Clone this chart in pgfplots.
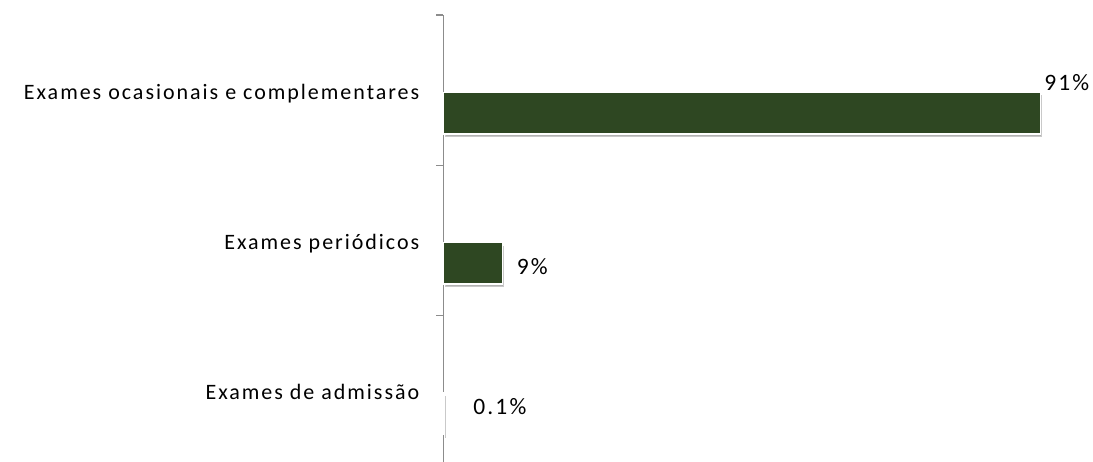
\documentclass[border=0pt]{standalone}
\usepackage{fontspec}
\setmainfont{Carlito}[LetterSpace=9]
\usepackage{pgfplots}
\pgfplotsset{compat=1.18}
\usetikzlibrary{shadows}
\definecolor{bargreen}{RGB}{46,71,34}
\definecolor{axisgray}{RGB}{140,140,140}
\begin{document}
\begin{tikzpicture}
\useasboundingbox (0,0) rectangle (1093pt,462pt);
\begin{axis}[
  at={(443.5pt,-4pt)}, anchor=south west,
  scale only axis,
  width=649.5pt, height=451pt,
  xmin=0, xmax=99,
  ymin=-0.5, ymax=2.5,
  axis x line=none,
  axis y line*=left,
  axis line style={axisgray, line width=1.2pt},
  ytick={0,1,2},
  yticklabels={Exames de admissão, Exames periódicos, Exames ocasionais e complementares},
  major tick length=0pt,
  minor ytick={-0.5,0.5,1.5,2.5},
  minor tick length=7pt,
  tick align=outside,
  tick style={axisgray, line width=1.2pt},
  yticklabel style={anchor=base east, inner sep=0pt, xshift=-24pt, yshift=-9pt, font=\fontsize{22}{26}\selectfont, text=black},
  xbar, bar width=41.5pt, bar shift=-23pt,
  point meta=explicit symbolic,
  nodes near coords,
  every node near coord/.append style={font=\fontsize{23.5}{28}\selectfont, text=black, inner sep=0pt, anchor=base west},
  clip=false,
]
\addplot[fill=bargreen, draw=white, line width=1.5pt,
  drop shadow={shadow xshift=1.5pt, shadow yshift=-3pt, fill=black, opacity=0.3},
  every node near coord/.append style={xshift=3pt, yshift=23pt}]
  coordinates {(91,2) [91\%]};
\addplot[fill=bargreen, draw=white, line width=1.5pt,
  drop shadow={shadow xshift=1.5pt, shadow yshift=-3pt, fill=black, opacity=0.3},
  every node near coord/.append style={xshift=13.5pt, yshift=-11pt}]
  coordinates {(9,1) [9\%]};
\addplot[fill=bargreen, draw=white, line width=1.5pt,
  drop shadow={shadow xshift=1.5pt, shadow yshift=-3pt, fill=black, opacity=0.3},
  every node near coord/.append style={xshift=28.5pt, yshift=-1pt}]
  coordinates {(0.1,0) [0.1\%]};
\end{axis}
\end{tikzpicture}
\end{document}
